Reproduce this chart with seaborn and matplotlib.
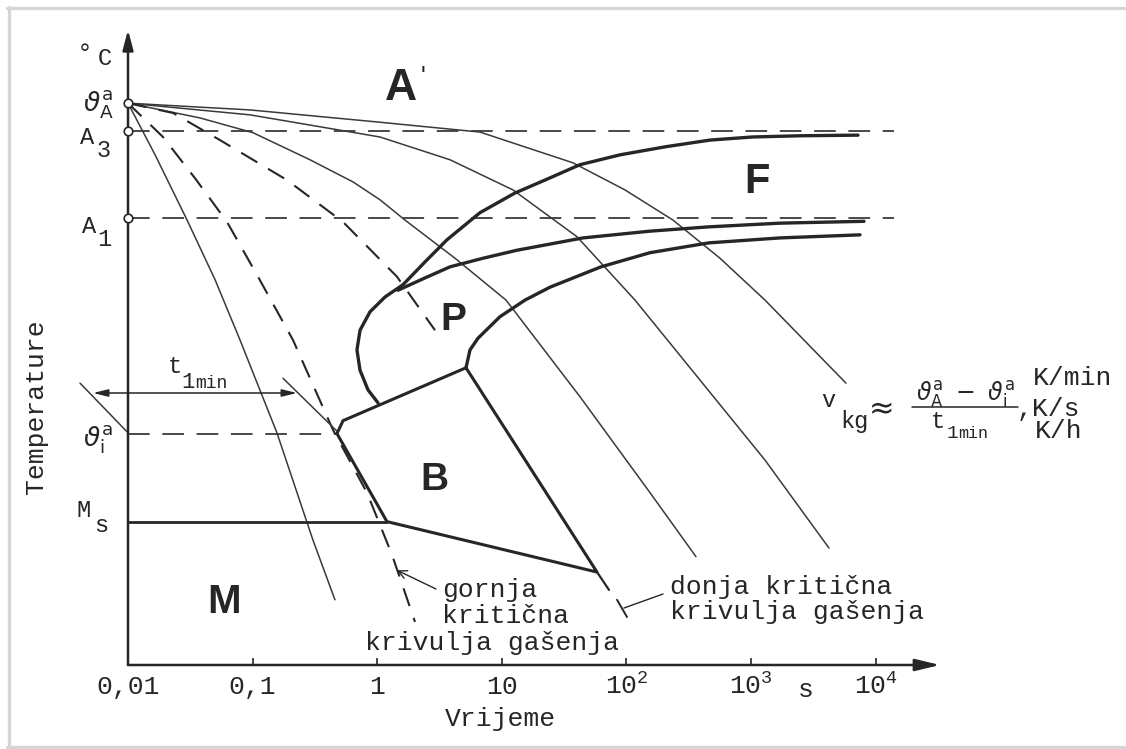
import numpy as np
import pandas as pd
import matplotlib
matplotlib.use("Agg")
import matplotlib.pyplot as plt
from matplotlib.lines import Line2D
from matplotlib.patches import ArrowStyle
from matplotlib import transforms
import seaborn as sns

# ---------------- data (time in s, temperature in °C) ----------------
theta_A = 913      # austenitizing temperature
A3 = 868
A1 = 727
theta_i = 376
Ms = 233
T_top = 1032       # end of the temperature axis
t_end = 32900      # end of the time axis
t_lines_end = 14000

# thin cooling curves
t_c1 = [0.01, 0.0165, 0.0298, 0.050, 0.0793, 0.157, 0.305, 0.458]
T_c1 = [913, 829, 723, 626, 528, 377, 203, 106]

t_c3 = [0.01, 0.0378, 0.1007, 0.2888, 0.6393, 1.053, 1.671, 4.21, 10.81, 42.4, 154.7, 361.9]
T_c3 = [913, 889, 865, 821, 785, 756, 723, 661, 593, 436, 280, 176]

t_c4 = [0.01, 0.0953, 1.053, 3.84, 12.3, 40.1, 117.2, 389.7, 1295, 4227]
T_c4 = [913, 894, 858, 821, 772, 696, 593, 463, 333, 190]

t_c5 = [0.01, 0.0953, 1.053, 6.68, 37.3, 97.4, 236.6, 563.8, 1295, 5787]
T_c5 = [913, 902, 882, 866, 816, 772, 723, 661, 593, 458]

# critical cooling curves (dashed)
t_upper = [0.01, 0.0191, 0.0345, 0.0623, 0.1105, 0.211, 0.442, 0.828, 1.315, 2.011]
T_upper = [913, 858, 791, 720, 631, 528, 382, 280, 179, 70]

t_lower = [0.01, 0.0230, 0.0547, 0.1888, 0.5315, 1.441, 2.91]
T_lower = [913, 897, 853, 788, 720, 631, 544]

# ferrite start (C-curve)
t_F = [1.015, 0.844, 0.728, 0.688, 0.728, 0.876, 1.155, 1.611, 2.419, 3.633,
       6.68, 12.76, 22.2, 42.4, 88.8, 204, 469, 1019, 2474, 7224]
T_F = [426, 447, 479, 512, 544, 574, 598, 618, 655, 691,
       735, 767, 788, 813, 829, 842, 853, 858, 860, 861]

# pearlite start / finish
t_Ps = [1.469, 2.419, 3.84, 7.07, 13.24, 44.8, 154.7, 460, 1709, 8071]
T_Ps = [609, 629, 647, 661, 674, 694, 705, 712, 718, 721]

t_Pf = [5.16, 5.556, 6.44, 9.67, 15.36, 24.4, 62.5, 154.7, 460, 1709, 7496]
T_Pf = [483, 512, 531, 566, 593, 614, 647, 670, 686, 694, 699]

# bainite field outline
t_B = [5.16, 0.5315, 0.4757, 1.198, 58.1, 5.16]
T_B = [483, 397, 376, 233, 151, 483]
t_Bext = [58.1, 72.5]
T_Bext = [151, 122]
t_tick = [84.1, 101.1]
T_tick = [106, 78]

# construction of t_1min
t_left = [0.00412, 0.00982]
T_left = [458, 379]
t_right = [0.1754, 0.4757]
T_right = [466, 380]
t_arrow = [0.00524, 0.2271]
T_arrow = 442

xtick_vals = [0.01, 0.1, 1, 10, 100, 1000, 10000]
xtick_labels = ["0,01", "0,1", "1", "10", r"$\mathregular{10^2}$",
                r"$\mathregular{10^3}$", r"$\mathregular{10^4}$"]
axis_marks_T = [theta_A, A3, A1]

# ---------------- style ----------------
sns.set_style("white")
plt.rcParams["font.family"] = ["Liberation Mono", "DejaVu Sans"]
plt.rcParams["mathtext.fontset"] = "dejavusans"

INK = "#262626"
THIN = "#3a3a3a"
MONO = 19

W, H = 1126, 749
fig = plt.figure(figsize=(W / 100, H / 100), dpi=100)
fig.patch.set_facecolor("white")
ax = fig.add_axes([0, 0, 1, 1])
ax.set_xscale("log")
X0, DEC, Y0, K = 128, 124.6, 665, 1.625
ax.set_xlim(0.01 * 10 ** (-X0 / DEC), 0.01 * 10 ** ((W - X0) / DEC))
ax.set_ylim((Y0 - H) * K, Y0 * K)
ax.axis("off")


def curve(t, T, lw, ls="-", color=INK, z=3):
    sns.lineplot(x=t, y=T, ax=ax, sort=False, estimator=None, color=color,
                 linewidth=lw, linestyle=ls, zorder=z,
                 solid_capstyle="round", dash_capstyle="butt")


def ftext(x, y, s, ha="center", va="baseline", **kw):
    fig.text(x / W, 1 - y / H, s, ha=ha, va=va, **kw)


# frame of the scan
for xs, ys in [((7, W), (7.5, 7.5)), ((8.5, 8.5), (7, H)), ((7, W), (746.5, 746.5))]:
    fig.add_artist(Line2D([x / W for x in xs], [1 - y / H for y in ys],
                          color="#d6d6d6", lw=2.4))

# axes with arrows
ax.annotate("", xy=(0.01, T_top), xytext=(0.01, 0),
            arrowprops=dict(arrowstyle=ArrowStyle("-|>", head_length=0.6, head_width=0.16),
                            mutation_scale=20, lw=1.8, color=INK, shrinkA=0, shrinkB=0))
ax.annotate("", xy=(t_end, 0), xytext=(0.01, 0),
            arrowprops=dict(arrowstyle=ArrowStyle("-|>", head_length=0.75, head_width=0.18),
                            mutation_scale=20, lw=1.8, color=INK, shrinkA=0, shrinkB=0))
ax.plot(xtick_vals[1:], [0] * 6, linestyle="none", marker=2, ms=5, mew=1.2, color=INK)

trans = transforms.blended_transform_factory(ax.transData, fig.transFigure)
for v, lab in zip(xtick_vals, xtick_labels):
    ax.text(v, 1 - 694 / H, lab, transform=trans, ha="center", va="baseline",
            fontsize=MONO, color=INK)

# horizontal reference lines
curve([0.01, t_lines_end], [A3, A3], 1.3, (0, (12, 7)), THIN, 2)
curve([0.01, t_lines_end], [A1, A1], 1.3, (0, (12, 7)), THIN, 2)
curve([0.01, t_B[2]], [theta_i, theta_i], 1.3, (0, (12, 7)), THIN, 2)
curve([0.01, t_B[3]], [Ms, Ms], 2.0, "-", INK, 3)

# cooling curves
for t, T in [(t_c1, T_c1), (t_c3, T_c3), (t_c4, T_c4), (t_c5, T_c5)]:
    curve(t, T, 1.1, "-", THIN, 2)
curve(t_upper, T_upper, 1.5, (0, (9, 6)), INK, 2)
curve(t_lower, T_lower, 1.5, (0, (9, 6)), INK, 2)

# transformation lines
curve(t_F, T_F, 2.4)
curve(t_Ps, T_Ps, 2.4)
curve(t_Pf, T_Pf, 2.4)
curve(t_B, T_B, 2.2)
curve(t_Bext, T_Bext, 1.6)
curve(t_tick, T_tick, 1.4)

# construction of t_1min
curve(t_left, T_left, 1.1, "-", THIN, 2)
curve(t_right, T_right, 1.1, "-", THIN, 2)
ax.annotate("", xy=(t_arrow[1], T_arrow), xytext=(t_arrow[0], T_arrow),
            arrowprops=dict(arrowstyle=ArrowStyle("<|-|>", head_length=0.9, head_width=0.22),
                            mutation_scale=10, lw=1.1, color=INK, shrinkA=0, shrinkB=0))

sns.scatterplot(x=[0.01] * 3, y=axis_marks_T, ax=ax, s=38, color="white",
                edgecolor=INK, linewidth=1.2, zorder=6)

# leaders
ax.annotate("", xy=(1.441, 154), xytext=(436 / W, 1 - 589 / H),
            textcoords="figure fraction",
            arrowprops=dict(arrowstyle=ArrowStyle("->", head_length=0.5, head_width=0.25),
                            mutation_scale=12, lw=1.0, color=INK, shrinkA=0, shrinkB=0))
ax.annotate("", xy=(95.6, 92.6), xytext=(663 / W, 1 - 594 / H),
            textcoords="figure fraction",
            arrowprops=dict(arrowstyle="-", lw=1.0, color=INK, shrinkA=0, shrinkB=0))

# ---------------- texts ----------------
TA = r"$\vartheta_{\mathrm{A}}^{\mathrm{a}}$"
TI = r"$\vartheta_{\mathrm{i}}^{\mathrm{a}}$"
ftext(85, 61, "°", fontsize=MONO, color=INK)
ftext(105, 65, "C", fontsize=17, color=INK)
ftext(98, 105, TA, va="center", fontsize=19, color=INK)
ftext(80, 144, "A", ha="left", fontsize=17, color=INK)
ftext(97, 157, "3", ha="left", fontsize=17, color=INK)
ftext(82, 233, "A", ha="left", fontsize=17, color=INK)
ftext(97, 246, "1", ha="left", fontsize=17, color=INK)
ftext(98, 440, TI, va="center", fontsize=19, color=INK)
ftext(77, 517, "M", ha="left", fontsize=17, color=INK)
ftext(94, 532, "s", ha="left", fontsize=17, color=INK)
ftext(36, 407, "Temperature", va="center", rotation=90, fontsize=MONO, color=INK)
ftext(500, 726, "Vrijeme", fontsize=MONO, color=INK)
ftext(806, 697, "s", fontsize=MONO, color=INK)

ftext(175, 373, "t", fontsize=17, color=INK)
ftext(188, 388, "1", fontsize=16, color=INK)
ftext(195, 388, "min", ha="left", fontsize=13, color=INK)

bold = dict(family="Liberation Sans", fontweight="bold", color=INK)
ftext(401, 100, "A", fontsize=32, **bold)
ftext(423, 84, "'", fontsize=18, family="Liberation Sans", color=INK)
ftext(757, 193, "F", fontsize=30, **bold)
ftext(453, 330, "P", fontsize=28, **bold)
ftext(434, 490, "B", fontsize=28, **bold)
ftext(224, 613, "M", fontsize=29, **bold)

ftext(442, 597, "gornja", ha="left", fontsize=MONO, color=INK)
ftext(442, 623, "kritična", ha="left", fontsize=MONO, color=INK)
ftext(365, 650, "krivulja gašenja", ha="left", fontsize=MONO, color=INK)
ftext(670, 594, "donja kritična", ha="left", fontsize=MONO, color=INK)
ftext(670, 619, "krivulja gašenja", ha="left", fontsize=MONO, color=INK)

# formula for the critical cooling rate
ftext(828, 407, "v", fontsize=17, color=INK)
ftext(840, 428, "kg", ha="left", fontsize=17, color=INK)
ftext(882, 410, "≈", va="center", fontsize=22, family="DejaVu Sans", color=INK)
ftext(965, 401, TA[:-1] + r"\ -\ " + TI[1:], fontsize=17, color=INK)
fig.add_artist(Line2D([912 / W, 1018 / W], [1 - 407 / H, 1 - 407 / H], color=INK, lw=1.1))
ftext(938, 428, "t", fontsize=17, color=INK)
ftext(947, 438, "1", ha="left", fontsize=14, color=INK)
ftext(958, 438, "min", ha="left", fontsize=12, color=INK)
ftext(1033, 385, "K/min", ha="left", fontsize=MONO, color=INK)
ftext(1017, 416, ",K/s", ha="left", fontsize=MONO, color=INK)
ftext(1035, 438, "K/h", ha="left", fontsize=MONO, color=INK)

fig.savefig("out.png", dpi=100, facecolor="white")
